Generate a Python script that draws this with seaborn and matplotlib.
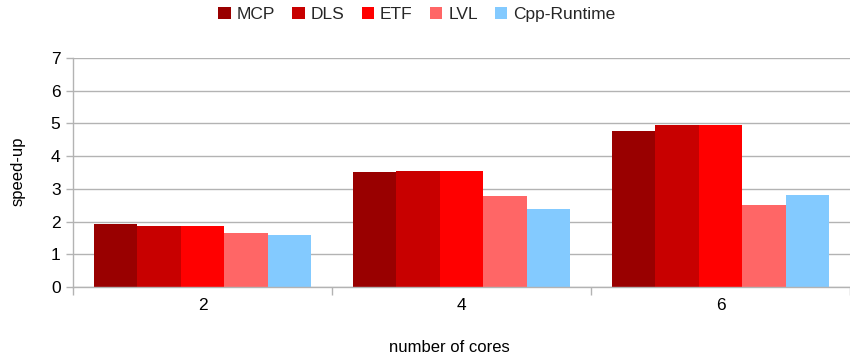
import matplotlib
matplotlib.use("Agg")
import matplotlib.pyplot as plt
from matplotlib.ticker import FixedLocator
import seaborn as sns
import pandas as pd

cores = ["2", "4", "6"]
schedulers = ["MCP", "DLS", "ETF", "LVL", "Cpp-Runtime"]
mcp = [1.93, 3.52, 4.77]
dls = [1.87, 3.55, 4.95]
etf = [1.87, 3.55, 4.95]
lvl = [1.65, 2.78, 2.51]
cpp = [1.59, 2.39, 2.81]
palette = ["#990000", "#C80000", "#FF0000", "#FF6666", "#83CAFF"]

rows = []
for name, vals in zip(schedulers, [mcp, dls, etf, lvl, cpp]):
    for c, v in zip(cores, vals):
        rows.append({"cores": c, "scheduler": name, "speedup": v})
df = pd.DataFrame(rows)

sns.set_theme(style="white")
plt.rcParams["font.family"] = ["Liberation Sans", "DejaVu Sans"]

fig = plt.figure(figsize=(8.5, 3.54), dpi=100)
ax = fig.add_axes([73 / 850, 1 - 287 / 354, 777 / 850, 229 / 354])

sns.barplot(data=df, x="cores", y="speedup", hue="scheduler",
            hue_order=schedulers, order=cores, palette=palette,
            width=0.84, saturation=1, errorbar=None, ax=ax,
            edgecolor="none", linewidth=0)

grid_c = "#b3b3b3"
ax.set_ylim(0, 7)
ax.set_xlim(-0.5, 2.5)
ax.set_yticks(range(0, 8))
ax.yaxis.grid(True, color=grid_c, linewidth=1)
ax.set_axisbelow(True)
for s in ["top", "right"]:
    ax.spines[s].set_visible(False)
for s in ["left", "bottom"]:
    ax.spines[s].set_color(grid_c)
    ax.spines[s].set_linewidth(1)

ax.tick_params(axis="y", length=5, color=grid_c, width=1, labelsize=12.5,
               pad=4, left=True, labelcolor="#000000")
ax.tick_params(axis="x", which="major", length=0, labelsize=12.5, pad=8,
               labelcolor="#000000")
ax.xaxis.set_minor_locator(FixedLocator([-0.5, 0.5, 1.5, 2.5]))
ax.tick_params(axis="x", which="minor", length=6, color=grid_c, width=1,
               bottom=True)

ax.set_xlabel("number of cores", fontsize=12, color="#000000")
ax.set_ylabel("speed-up", fontsize=12, color="#000000")
# place axis titles in figure pixel terms (y measured from the top)
ax.xaxis.set_label_coords(449 / 850, 1 - 347 / 354, transform=fig.transFigure)
ax.yaxis.set_label_coords(18 / 850, 1 - 171 / 354, transform=fig.transFigure)
ax.xaxis.label.set_va("center")
ax.yaxis.label.set_va("center")

ax.legend(loc="upper center", bbox_to_anchor=(417 / 850, 1 - 7 / 354),
          bbox_transform=fig.transFigure,
          ncol=5, frameon=False, fontsize=12.5, handlelength=0.7,
          handleheight=0.7, handletextpad=0.35, columnspacing=1.0,
          borderaxespad=0, borderpad=0)

fig.savefig("out.png", dpi=100)
